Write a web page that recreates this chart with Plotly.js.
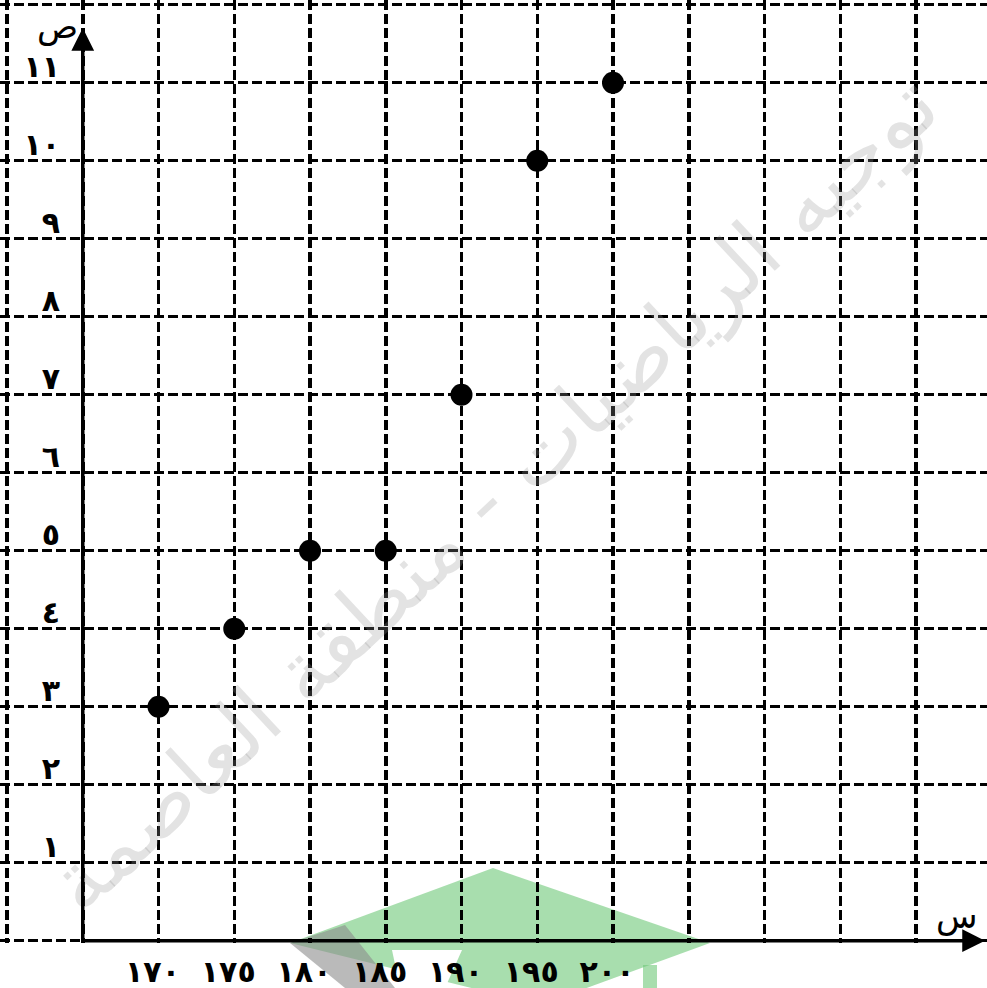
<!DOCTYPE html>
<html>
<head>
<meta charset="utf-8">
<script src="https://cdn.plot.ly/plotly-3.0.1.min.js"></script>
<style>
html, body { margin: 0; padding: 0; background: #fff; }
#chart { width: 987px; height: 988px; }
</style>
</head>
<body>
<div id="chart"></div>
<script>
// ---- data ----
var xValues = [170, 175, 180, 185, 190, 195, 200];
var yValues = [3, 4, 5, 5, 7, 10, 11];
var xTickValues = [170, 175, 180, 185, 190, 195, 200];
var xTickLabels = ['١٧٠', '١٧٥', '١٨٠', '١٨٥', '١٩٠', '١٩٥', '٢٠٠'];
var yTickValues = [1, 2, 3, 4, 5, 6, 7, 8, 9, 10, 11];
var yTickLabels = ['١', '٢', '٣', '٤', '٥', '٦', '٧', '٨', '٩', '١٠', '١١'];
var xAxisTitle = 'س';
var yAxisTitle = 'ص';
var watermark = 'توجيه الرياضيات - منطقة العاصمة';

// ---- geometry helpers ----
var W = 987, H = 988, B = 45;
var pxPerX = 15.15;
var xMin = 160 - 7 / pxPerX, xMax = 160 + (W - 7) / pxPerX;
var yMin = -0.03, yMax = 12.06;
var plotH = H - B;
function px2paperX(p) { return p / W; }
function px2paperY(p) { return (plotH - p) / plotH; }

// grid tick lists (every 5 on x, every 1 on y) with labels only where the chart has them
var xGrid = [], xGridText = [];
for (var v = 160; v <= xMax; v += 5) {
  xGrid.push(v);
  var i = xTickValues.indexOf(v);
  xGridText.push(i >= 0 ? xTickLabels[i] : '');
}
var yGrid = [], yGridText = [];
for (var k = 0; k <= 12; k++) {
  yGrid.push(k);
  var j = yTickValues.indexOf(k);
  yGridText.push(j >= 0 ? yTickLabels[j] : '');
}

var tickFont = { family: 'DejaVu Sans', size: 30, color: '#000', weight: 'bold' };

var trace = {
  type: 'scatter',
  mode: 'markers',
  x: xValues,
  y: yValues,
  marker: { size: 22, color: '#000' },
  cliponaxis: false,
  hoverinfo: 'x+y'
};

function poly(pts) {
  var d = '';
  pts.forEach(function (p, n) {
    d += (n === 0 ? 'M' : 'L') + px2paperX(p[0]) + ',' + px2paperY(p[1]) + ' ';
  });
  return d + 'Z';
}

var layout = {
  width: W, height: H,
  margin: { l: 0, r: 0, t: 0, b: B, pad: 0 },
  paper_bgcolor: '#fff',
  plot_bgcolor: '#fff',
  showlegend: false,
  xaxis: {
    range: [xMin, xMax],
    tickmode: 'array',
    tickvals: xGrid,
    ticktext: xGridText,
    showgrid: true,
    gridcolor: '#000',
    gridwidth: 3.5,
    griddash: '10px,4px',
    zeroline: false,
    showline: false,
    ticks: '',
    tickfont: tickFont,
    ticklabelstandoff: 8,
    ticklabelshift: -6,
    fixedrange: true
  },
  yaxis: {
    range: [yMin, yMax],
    anchor: 'free',
    position: px2paperX(82),
    tickmode: 'array',
    tickvals: yGrid,
    ticktext: yGridText,
    showgrid: true,
    gridcolor: '#000',
    gridwidth: 3.5,
    griddash: '10px,4px',
    zeroline: false,
    showline: false,
    ticks: '',
    tickfont: tickFont,
    ticklabelstandoff: 22,
    ticklabelshift: -16,
    fixedrange: true
  },
  shapes: [
    // green mortarboard logo (faint)
    { type: 'path', xref: 'paper', yref: 'paper', layer: 'below',
      path: poly([[290, 943], [493, 868], [710, 943], [540, 1005]]),
      fillcolor: 'rgba(110,200,120,0.6)', line: { width: 0 } },
    { type: 'path', xref: 'paper', yref: 'paper', layer: 'below',
      path: poly([[290, 943], [345, 925], [395, 988], [345, 988]]),
      fillcolor: 'rgba(140,140,140,0.6)', line: { width: 0 } },
    { type: 'path', xref: 'paper', yref: 'paper', layer: 'below',
      path: poly([[392, 950], [462, 950], [445, 988], [400, 988]]),
      fillcolor: '#fff', line: { width: 0 } },
    { type: 'path', xref: 'paper', yref: 'paper', layer: 'below',
      path: poly([[643, 965], [657, 965], [657, 988], [643, 988]]),
      fillcolor: 'rgba(110,200,120,0.6)', line: { width: 0 } }
  ],
  annotations: [
    // watermark
    { xref: 'paper', yref: 'paper', x: px2paperX(493), y: px2paperY(494),
      text: watermark, showarrow: false, textangle: -43,
      font: { family: 'DejaVu Sans', size: 84, color: 'rgba(150,150,150,0.27)' } },
    // x axis with arrow
    { xref: 'x', yref: 'y', axref: 'x', ayref: 'y',
      x: xMin + 985 / pxPerX, y: 0, ax: 165, ay: 0, text: '',
      showarrow: true, arrowhead: 2, arrowsize: 1.3, arrowwidth: 3.5, arrowcolor: '#000', standoff: 0 },
    // y axis with arrow
    { xref: 'x', yref: 'y', axref: 'x', ayref: 'y',
      x: 165, y: 11.7, ax: 165, ay: 0, text: '',
      showarrow: true, arrowhead: 2, arrowsize: 1.3, arrowwidth: 3.5, arrowcolor: '#000', standoff: 0 },
    // axis titles
    { xref: 'paper', yref: 'paper', x: px2paperX(80), y: px2paperY(4),
      xanchor: 'right', yanchor: 'top',
      text: yAxisTitle, showarrow: false,
      font: { family: 'DejaVu Sans', size: 34, color: '#000' } },
    { xref: 'paper', yref: 'paper', x: px2paperX(980), y: px2paperY(938),
      xanchor: 'right', yanchor: 'bottom',
      text: xAxisTitle, showarrow: false,
      font: { family: 'DejaVu Sans', size: 34, color: '#000' } }
  ]
};

Plotly.newPlot('chart', [trace], layout, { displayModeBar: false, staticPlot: true });
</script>
</body>
</html>
